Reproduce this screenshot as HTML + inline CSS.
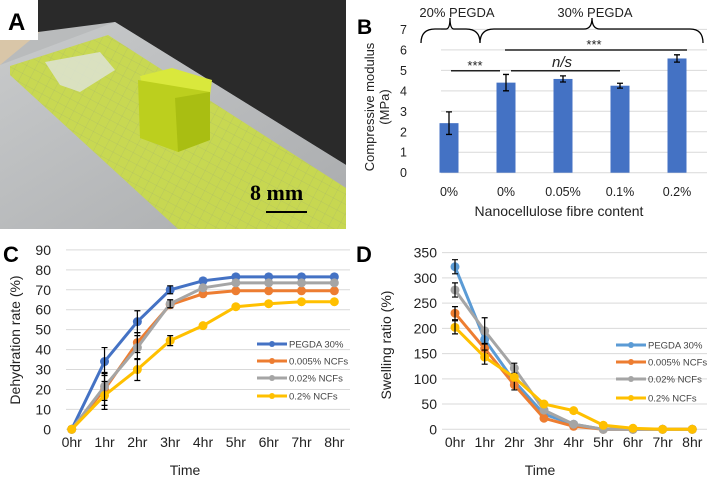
<!DOCTYPE html>
<html><head><meta charset="utf-8"><style>
html,body{margin:0;padding:0;background:#fff;}
svg{display:block;font-family:"Liberation Sans",Arial,sans-serif;}
</style></head><body>
<svg id="fig" width="709" height="479" viewBox="0 0 709 479">
<defs>
<pattern id="grid" width="9" height="9" patternUnits="userSpaceOnUse" patternTransform="rotate(28)">
<path d="M0 0H9M0 0V9" stroke="#8a9a80" stroke-width="0.5" fill="none" opacity="0.5"/>
</pattern>
<linearGradient id="plate" x1="0" y1="0" x2="1" y2="1"><stop offset="0" stop-color="#c9cbcc"/><stop offset="1" stop-color="#a9abad"/></linearGradient>
</defs>
<g>
<rect x="0" y="0" width="346" height="229" fill="#b9bbbc"/>
<polygon points="38,0 346,0 346,165 115,22 38,32" fill="#2a2a2a"/>
<polygon points="0,40 40,32 0,65" fill="#d9c6a8"/>
<polygon points="0,65 115,22 346,165 346,229 0,229" fill="url(#plate)"/>
<polygon points="10,66 108,35 346,188 346,229 178,229 10,75" fill="#c8d94c" opacity="0.95"/>
<polygon points="10,66 108,35 346,188 346,229 178,229 10,75" fill="url(#grid)"/>
<polygon points="45,62 100,52 115,70 80,92 60,85" fill="#dfe3dc" opacity="0.8"/>
<polygon points="140,76 172,68 212,80 210,96 145,98" fill="#d9e83c"/>
<polygon points="138,80 210,92 210,140 178,152 140,138" fill="#bccf1e"/>
<polygon points="175,98 210,92 210,140 178,152" fill="#a9be12"/>
<text x="250" y="200" font-family="Liberation Serif,serif" font-weight="bold" font-size="22" fill="#000">8 mm</text>
<line x1="266" y1="212" x2="307" y2="212" stroke="#000" stroke-width="2"/>
<rect x="0" y="0" width="38" height="40" fill="#fff"/>
<text x="8" y="30" font-size="24" font-weight="bold">A</text>
</g>
<g id="pb">
<text x="357" y="34" font-size="21" font-weight="bold">B</text>
</g>
<g id="pc">
<text x="3" y="262" font-size="22" font-weight="bold">C</text>
</g>
<g id="pd">
<text x="356" y="262" font-size="22" font-weight="bold">D</text>
</g>
</svg>
<script>
const NS="http://www.w3.org/2000/svg";
function mk(p,t,a,txt){const e=document.createElementNS(NS,t);for(const k in a)e.setAttribute(k,a[k]);if(txt!==undefined)e.textContent=txt;p.appendChild(e);return e;}

// Panel B data
const bCats=["0%","0%","0.05%","0.1%","0.2%"];
const bVals=[2.42,4.4,4.58,4.25,5.58];
const bErr=[0.55,0.4,0.15,0.12,0.18];
const bTicks=[0,1,2,3,4,5,6,7];

// Panel C data
const timeCats=["0hr","1hr","2hr","3hr","4hr","5hr","6hr","7hr","8hr"];
const seriesNames=["PEGDA 30%","0.005% NCFs","0.02% NCFs","0.2% NCFs"];
const cBlue=[0,34,54,70,74.5,76.5,76.5,76.5,76.5];
const cOrange=[0,20,43.5,62.5,68,69.5,69.5,69.5,69.5];
const cGray=[0,21.5,41,63,71,73.5,73.5,73.5,73.5];
const cYellow=[0,17,30,44.5,52,61.5,63,64,64];
const cErrBlue=[0,7,5.5,2,0,0,0,0,0];
const cErrOrange=[0,8,5,1.5,0,0,0,0,0];
const cErrGray=[0,7,6,2,0,0,0,0,0];
const cErrYellow=[0,7,5.5,2.5,0,0,0,0,0];
const cTicks=[0,10,20,30,40,50,60,70,80,90];

// Panel D data
const dBlue=[322,178,95,30,10,0,0,0,0];
const dOrange=[230,160,88,22,6,0,0,0,0];
const dGray=[276,195,121,38,10,0,0,0,0];
const dYellow=[202,143,103,50,37,8,2,0,0];
const dErrBlue=[14,12,0,0,0,0,0,0,0];
const dErrOrange=[13,10,10,0,0,0,0,0,0];
const dErrGray=[14,26,10,0,0,0,0,0,0];
const dErrYellow=[13,14,0,0,0,0,0,0,0];
const dTicks=[0,50,100,150,200,250,300,350];

// ---- Panel B
(function(){
const g=document.getElementById('pb');
const y=v=>172.7-v*20.47;
const x=i=>449+i*57;
bTicks.forEach(t=>{
  const l=mk(g,'line',{x1:441,x2:707,y1:y(t),y2:y(t),stroke:'#d9d9d9','stroke-width':1});
  
  
  const tx=mk(g,'text',{x:407,y:y(t)+4.5,'font-size':12.5,'text-anchor':'end',fill:'#222'},t);
  
  
});
bVals.forEach((v,i)=>{
  const r=mk(g,'rect',{x:x(i)-9.5,y:y(v),width:19,height:y(0)-y(v),fill:'#4472c4'});
  
  
  const e=mk(g,'path',{d:`M${x(i)} ${y(v+bErr[i])}V${y(v-bErr[i])}M${x(i)-3} ${y(v+bErr[i])}h6M${x(i)-3} ${y(v-bErr[i])}h6`,stroke:'#000','stroke-width':1.3,fill:'none'});
  
  
  const t=mk(g,'text',{x:x(i),y:196,'font-size':12.5,'text-anchor':'middle',fill:'#222'},bCats[i]);
  
  
});
const at=mk(g,'text',{x:559,y:216,'font-size':14,'text-anchor':'middle',fill:'#222'},'Nanocellulose fibre content');


const yt=mk(g,'text',{transform:'translate(374,107) rotate(-90)','font-size':13,'text-anchor':'middle',fill:'#222'});


mk(yt,'tspan',{x:0,dy:0},'Compressive modulus');
mk(yt,'tspan',{x:0,dy:15},'(MPa)');
const br=mk(g,'path',{d:'M421 43 Q421 29 435 29 H446 Q450 29 450 18 Q450 29 454 29 H466 Q480 29 480 43 M480 43 Q480 29 494 29 H584 Q592 29 592 18 Q592 29 600 29 H690 Q703 29 703 43',stroke:'#000','stroke-width':1.3,fill:'none'});


const l1=mk(g,'text',{x:457,y:17,'font-size':13,'text-anchor':'middle',fill:'#222'},'20% PEGDA');


const l2=mk(g,'text',{x:595,y:17,'font-size':13,'text-anchor':'middle',fill:'#222'},'30% PEGDA');


const s=mk(g,'path',{d:'M451 70.7H500M511 70.7H620M505 50H687',stroke:'#222','stroke-width':1.5});


const s1=mk(g,'text',{x:475,y:70,'font-size':13,'text-anchor':'middle',fill:'#222'},'***');


const s2=mk(g,'text',{x:562,y:67,'font-size':15,'font-style':'italic','text-anchor':'middle',fill:'#222'},'n/s');


const s3=mk(g,'text',{x:594,y:49,'font-size':13,'text-anchor':'middle',fill:'#222'},'***');


})();

// ---- Line chart helper
function lineChart(gid,o){
const g=document.getElementById(gid);
const y=v=>o.y0-v*o.py;
const x=i=>o.x0+i*o.dx;
o.ticks.forEach(t=>{
  const l=mk(g,'line',{x1:o.gx0,x2:o.gx1,y1:y(t),y2:y(t),stroke:'#d9d9d9','stroke-width':1});
  
  
  const tx=mk(g,'text',{x:o.tx,y:y(t)+5,'font-size':14,'text-anchor':'end',fill:'#222'},t);
  
  
});
timeCats.forEach((c,i)=>{
  const t=mk(g,'text',{x:x(i),y:447,'font-size':14,'text-anchor':'middle',fill:'#222'},c);
  
  
});
const xt=mk(g,'text',{x:o.xtx,y:475,'font-size':14,'text-anchor':'middle',fill:'#222'},'Time');


const yt=mk(g,'text',{transform:`translate(${o.ytx},${o.yty}) rotate(-90)`,'font-size':14,'text-anchor':'middle',fill:'#222'},o.ytitle);


o.series.forEach((s,k)=>{
  const p=mk(g,'polyline',{points:s.map((v,i)=>x(i)+','+y(v)).join(' '),fill:'none',stroke:o.colors[k],'stroke-width':3,'stroke-linejoin':'round'});
  
  
  s.forEach((v,i)=>{
    const c=mk(g,'circle',{cx:x(i),cy:y(v),r:4.5,fill:o.colors[k]});
    
    
    const e=o.errs[k][i];
    if(e>0){
      const b=mk(g,'path',{d:`M${x(i)} ${y(v+e)}V${y(v-e)}M${x(i)-3} ${y(v+e)}h6M${x(i)-3} ${y(v-e)}h6`,stroke:'#000','stroke-width':1.2,fill:'none'});
      
      
    }
  });
  const ly=o.ly[k];
  const ll=mk(g,'line',{x1:o.lx,x2:o.lx+30,y1:ly,y2:ly,stroke:o.colors[k],'stroke-width':3});
  
  
  const lc=mk(g,'circle',{cx:o.lx+15,cy:ly,r:3,fill:o.colors[k]});
  
  
  const lt=mk(g,'text',{x:o.lx+32,y:ly+3.5,'font-size':9.5,fill:'#444'},seriesNames[k]);
  
  
});
}
lineChart('pc',{y0:429.3,py:1.993,x0:71.7,dx:32.83,gx0:66,gx1:350,tx:51,ticks:cTicks,
 xtx:185,ytx:20,yty:340,ytitle:'Dehydration rate (%)',
 series:[cBlue,cOrange,cGray,cYellow],errs:[cErrBlue,cErrOrange,cErrGray,cErrYellow],
 colors:['#4472c4','#ed7d31','#a5a5a5','#ffc000'],lx:257,ly:[344,361,378,396]});
lineChart('pd',{y0:429.3,py:0.5048,x0:455,dx:29.66,gx0:442,gx1:707,tx:437,ticks:dTicks,
 xtx:540,ytx:391,yty:345,ytitle:'Swelling ratio (%)',
 series:[dBlue,dOrange,dGray,dYellow],errs:[dErrBlue,dErrOrange,dErrGray,dErrYellow],
 colors:['#5b9bd5','#ed7d31','#a5a5a5','#ffc000'],lx:616,ly:[345,362,379,398]});
</script>
</body></html>
